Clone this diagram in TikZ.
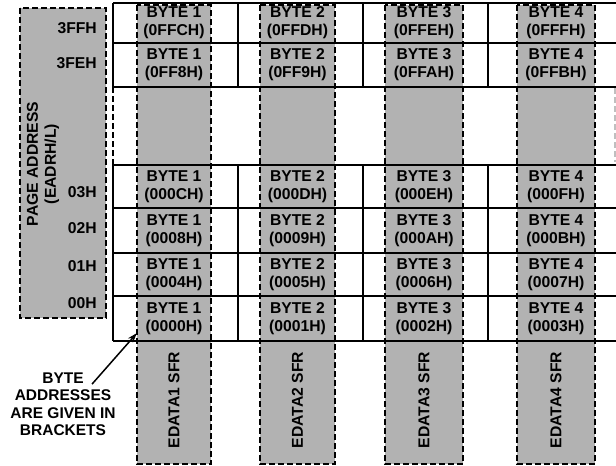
\documentclass[tikz,border=0pt]{standalone}
\usepackage{fontspec}
\setmainfont{Liberation Sans}
\usetikzlibrary{arrows.meta, positioning}

\begin{document}
\begin{tikzpicture}[
    x=1pt, y=-1pt,
    >={Stealth[length=10pt,width=6.5pt]},
    every node/.style={font=\bfseries\fontsize{15.7}{18}\selectfont,
                       align=center, inner sep=0pt},
    strip/.style ={draw, fill=black!30, line width=1.7pt,
                   dash pattern=on 6pt off 3pt},
    rule/.style  ={line width=1.5pt},
    brk/.style   ={line width=1.6pt, dash pattern=on 6pt off 3pt},
    pg/.style    ={anchor=east},
    sfr/.style   ={rotate=90},
    note/.style  ={font=\bfseries\fontsize{15.5}{17.5}\selectfont},
    pointer/.style={->, line width=1.5pt},
]
\useasboundingbox (0,0) rectangle (616,466);
% page address column
\path[strip] (20,8) rectangle (106,318);
\node[sfr] (pgaddr) at (43,164) {PAGE ADDRESS\\(EADRH/L)};
\foreach \name/\y/\txt in {p3ff/28/3FFH, p3fe/63/3FEH, p03/192/03H,
                           p02/228/02H, p01/266/01H, p00/303/00H}
  \node[pg] (\name) at (97,\y) {\txt};

% EDATA strips
\foreach \c/\xl/\xr in {1/137/211, 2/260/335, 3/385/463, 4/517/595}
  \path[strip] (\xl,5) rectangle (\xr,464);

% grid
\foreach \y in {3,43,87,165,208,253,296,341}
  \draw[rule] (113,\y) -- (616,\y);
\foreach \x in {113,238,363,488} {
  \draw[rule] (\x,3) -- (\x,87);
  \draw[rule] (\x,165) -- (\x,341);
}
\draw[brk] (113,87) -- (113,165);
\draw[brk, black!25] (615,88) -- (615,162);

% byte cells
\foreach \r/\yc/\pa/\pb/\pc/\pd in {
    1/23/0FFCH/0FFDH/0FFEH/0FFFH,
    2/65/0FF8H/0FF9H/0FFAH/0FFBH,
    3/186.5/000CH/000DH/000EH/000FH,
    4/230.5/0008H/0009H/000AH/000BH,
    5/274.5/0004H/0005H/0006H/0007H,
    6/318.5/0000H/0001H/0002H/0003H}
  \foreach \c/\xc/\ad in {1/174/\pa, 2/297.5/\pb, 3/424/\pc, 4/556/\pd}
    \node (b\c r\r) at (\xc,\yc) {BYTE \c\\(\ad)};

\foreach \c/\xc in {1/174, 2/297.5, 3/424, 4/556}
  \node[sfr] (edata\c) at (\xc,400) {EDATA\c\ SFR};

% note
\node[note] (note) at (63,404) {BYTE\\ADDRESSES\\ARE GIVEN IN\\BRACKETS};
\coordinate (tail) at ([xshift=29pt,yshift=-12pt]note.north);
\coordinate (tip) at (137,333);
\draw[pointer] (tail) -- (tip);
\end{tikzpicture}
\end{document}
